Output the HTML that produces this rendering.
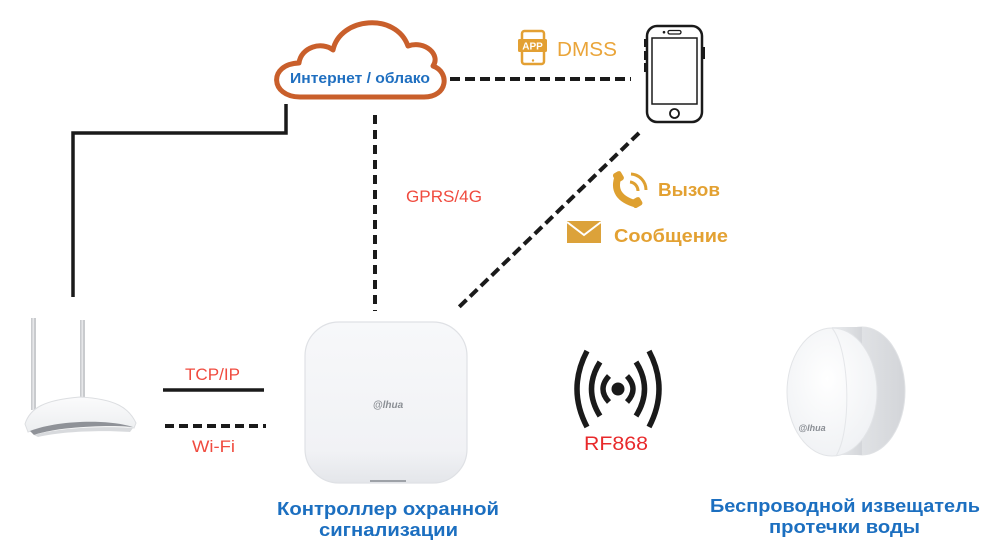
<!DOCTYPE html>
<html>
<head>
<meta charset="utf-8">
<style>
  html, body { margin: 0; padding: 0; background: #ffffff; }
  svg { display: block; }
  text { font-family: "Liberation Sans", "Noto Sans CJK SC", sans-serif; }
</style>
</head>
<body>
<svg width="1000" height="557" viewBox="0 0 1000 557" xmlns="http://www.w3.org/2000/svg">
  <defs>
    <linearGradient id="ctrl" x1="0" y1="0" x2="0" y2="1">
      <stop offset="0" stop-color="#f7f8fa"/>
      <stop offset="0.8" stop-color="#f1f2f5"/>
      <stop offset="1" stop-color="#e4e6ea"/>
    </linearGradient>
    <linearGradient id="side" x1="0" y1="0" x2="1" y2="0">
      <stop offset="0" stop-color="#eceef0"/>
      <stop offset="1" stop-color="#d3d5d9"/>
    </linearGradient>
    <radialGradient id="face" cx="0.45" cy="0.4" r="0.7">
      <stop offset="0" stop-color="#ffffff"/>
      <stop offset="1" stop-color="#eef0f3"/>
    </radialGradient>
    <linearGradient id="rbody" x1="0" y1="0" x2="0" y2="1">
      <stop offset="0" stop-color="#fbfbfc"/>
      <stop offset="1" stop-color="#eceef0"/>
    </linearGradient>
  </defs>

  <!-- connectors -->
  <polyline points="73,297 73,133 286,133 286,104" fill="none" stroke="#1a1a1a" stroke-width="3.5"/>
  <line x1="375" y1="115" x2="375" y2="311" stroke="#1a1a1a" stroke-width="4" stroke-dasharray="9 6"/>
  <line x1="450" y1="79" x2="631" y2="79" stroke="#1a1a1a" stroke-width="4" stroke-dasharray="10 5"/>
  <line x1="639" y1="133" x2="456" y2="310" stroke="#1a1a1a" stroke-width="4" stroke-dasharray="10 5"/>
  <line x1="163" y1="390" x2="264" y2="390" stroke="#1a1a1a" stroke-width="3.5"/>
  <line x1="165" y1="426" x2="266" y2="426" stroke="#1a1a1a" stroke-width="4" stroke-dasharray="9 5"/>

  <!-- cloud -->
  <path d="M 300 97 C 270 97 268 64 299 63 C 301 47 322 41 333 50 C 340 17 396 12 408 46 C 425 40 441 55 433 66 C 450 72 448 97 424 97 Z"
        fill="#ffffff" stroke="#c95f2b" stroke-width="5" stroke-linejoin="round"/>
  <text x="290" y="83" font-size="15" font-weight="bold" fill="#1f6fc0" textLength="140" lengthAdjust="spacingAndGlyphs">Интернет / облако</text>

  <!-- APP icon + DMSS -->
  <rect x="522" y="31" width="22" height="33" rx="2.5" fill="none" stroke="#e3a033" stroke-width="2.5"/>
  <rect x="518" y="39" width="29" height="13" rx="1.5" fill="#e3a033"/>
  <text x="532.5" y="49.5" font-size="10" font-weight="bold" fill="#ffffff" text-anchor="middle">APP</text>
  <circle cx="533" cy="60.5" r="1.2" fill="#e3a033"/>
  <text x="557" y="56" font-size="20" fill="#eaa53a" textLength="60" lengthAdjust="spacingAndGlyphs">DMSS</text>

  <!-- smartphone -->
  <rect x="647" y="26" width="55" height="96" rx="10" fill="#ffffff" stroke="#1a1a1a" stroke-width="2.5"/>
  <rect x="652" y="38" width="45" height="66" fill="none" stroke="#1a1a1a" stroke-width="1.5"/>
  <rect x="668" y="30.5" width="13" height="3.5" rx="1.7" fill="none" stroke="#1a1a1a" stroke-width="1.3"/>
  <circle cx="664" cy="32.2" r="1.3" fill="#1a1a1a"/>
  <circle cx="674.5" cy="113.5" r="4.5" fill="none" stroke="#1a1a1a" stroke-width="1.8"/>
  <rect x="644" y="39" width="3" height="8" fill="#1a1a1a"/>
  <rect x="644" y="51" width="3" height="9" fill="#1a1a1a"/>
  <rect x="644" y="63" width="3" height="9" fill="#1a1a1a"/>
  <rect x="702" y="47" width="3" height="12" fill="#1a1a1a"/>

  <!-- GPRS label -->
  <text x="406" y="202" font-size="17" fill="#f04b3f" textLength="76" lengthAdjust="spacingAndGlyphs">GPRS/4G</text>

  <!-- call icon -->
  <path d="M 618 177 Q 611 197 636 204" fill="none" stroke="#dea030" stroke-width="7" stroke-linecap="round"/>
  <rect x="614" y="172" width="9" height="10" rx="2.5" transform="rotate(-30 618 177)" fill="#dea030"/>
  <rect x="632" y="198" width="10" height="9" rx="2.5" transform="rotate(-30 637 203)" fill="#dea030"/>
  <path d="M 630 182 A 9 9 0 0 1 638 191" fill="none" stroke="#dea030" stroke-width="3"/>
  <path d="M 631 174 A 16 16 0 0 1 646 190" fill="none" stroke="#dea030" stroke-width="3"/>
  <text x="658" y="196" font-size="18" font-weight="bold" fill="#e3a132" textLength="62" lengthAdjust="spacingAndGlyphs">Вызов</text>

  <!-- message icon -->
  <rect x="567" y="221" width="34" height="22" fill="#dca23a"/>
  <polyline points="567,222 584,235 601,222" fill="none" stroke="#ffffff" stroke-width="2"/>
  <text x="614" y="242" font-size="18" font-weight="bold" fill="#e3a132" textLength="114" lengthAdjust="spacingAndGlyphs">Сообщение</text>

  <!-- router -->
  <rect x="31" y="318" width="5" height="92" fill="#c9cbce"/>
  <rect x="32.5" y="318" width="1.5" height="92" fill="#e6e7e9"/>
  <rect x="80" y="320" width="5" height="86" fill="#c9cbce"/>
  <rect x="81.5" y="320" width="1.5" height="86" fill="#e6e7e9"/>
  <path d="M 25 424 C 30 408 44 400 80 397 C 116 399 129 408 136 423 L 134 428 C 110 421 55 421 28 432 Z" fill="url(#rbody)" stroke="#dcdee1" stroke-width="1"/>
  <path d="M 30 431 C 58 420 108 419 133 427 C 112 425 60 426 34 435 Z" fill="#8f9298"/>
  <path d="M 34 435 C 60 427 110 426 133 428 L 130 432 C 105 430 62 431 38 437 Z" fill="#d8dadd"/>
  <text x="185" y="380" font-size="17" fill="#f04b3f" textLength="55" lengthAdjust="spacingAndGlyphs">TCP/IP</text>
  <text x="192" y="452" font-size="17" fill="#f04b3f" textLength="43" lengthAdjust="spacingAndGlyphs">Wi-Fi</text>

  <!-- controller -->
  <rect x="305" y="322" width="162" height="161" rx="34" fill="url(#ctrl)" stroke="#dfe1e5" stroke-width="1.2"/>
  <rect x="370" y="480" width="36" height="2" fill="#9ea2a8"/>
  <text x="388" y="408" font-size="10" font-style="italic" font-weight="bold" fill="#8a8e94" text-anchor="middle">@lhua</text>
  <text x="277" y="515" font-size="18" font-weight="bold" fill="#1c6fc0" textLength="222" lengthAdjust="spacingAndGlyphs">Контроллер охранной</text>
  <text x="319" y="536" font-size="18" font-weight="bold" fill="#1c6fc0" textLength="139" lengthAdjust="spacingAndGlyphs">сигнализации</text>

  <!-- RF icon -->
  <circle cx="618" cy="389" r="6.5" fill="#1a1a1a"/>
  <g fill="none" stroke="#1a1a1a" stroke-width="5.5">
    <path d="M 609 376 Q 597 389 609 402"/>
    <path d="M 627 376 Q 639 389 627 402"/>
    <path d="M 600 362 Q 583 389 600 416"/>
    <path d="M 636 362 Q 653 389 636 416"/>
    <path d="M 587 351 Q 567 389 587 427"/>
    <path d="M 649 351 Q 669 389 649 427"/>
  </g>
  <text x="584" y="450" font-size="19" fill="#e8292b" textLength="64" lengthAdjust="spacingAndGlyphs">RF868</text>

  <!-- leak sensor -->
  <ellipse cx="862" cy="391" rx="43" ry="64" fill="url(#side)" stroke="#e0e2e5" stroke-width="1"/>
  <rect x="832" y="327" width="30" height="128" fill="url(#side)"/>
  <ellipse cx="832" cy="392" rx="45" ry="64" fill="url(#face)" stroke="#e2e4e7" stroke-width="1"/>
  <path d="M 832 328 C 850 350 852 430 836 456" fill="none" stroke="#e4e6e9" stroke-width="1"/>
  <text x="812" y="431" font-size="9" font-style="italic" font-weight="bold" fill="#8a8e94" text-anchor="middle">@lhua</text>
  <text x="710" y="512" font-size="18" font-weight="bold" fill="#1c6fc0" textLength="270" lengthAdjust="spacingAndGlyphs">Беспроводной извещатель</text>
  <text x="769" y="533" font-size="18" font-weight="bold" fill="#1c6fc0" textLength="151" lengthAdjust="spacingAndGlyphs">протечки воды</text>
</svg>
</body>
</html>
